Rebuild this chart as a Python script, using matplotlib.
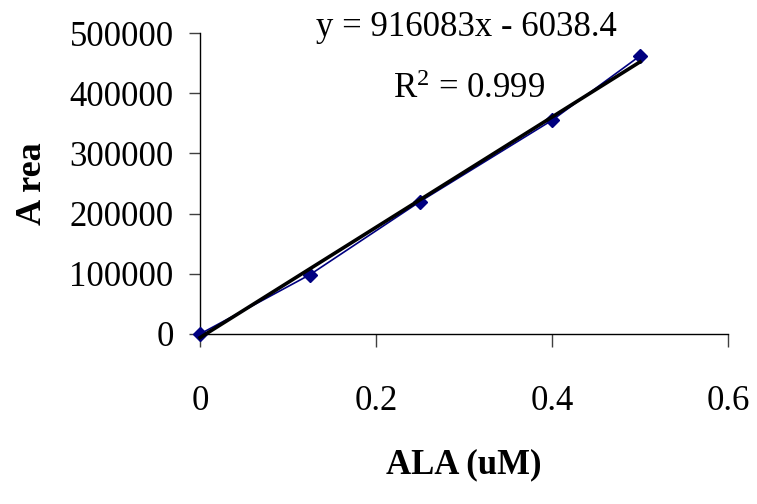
import matplotlib
matplotlib.use("Agg")
import matplotlib.pyplot as plt
import numpy as np

conc = [0.0, 0.125, 0.25, 0.4, 0.5]
area = [0, 98600, 220000, 355000, 462000]
slope = 916083
intercept = -6038.4
r2_text = "0.999"
yticks = [0, 100000, 200000, 300000, 400000, 500000]
xticks = [0, 0.2, 0.4, 0.6]
xticklabels = ["0", "0.2", "0.4", "0.6"]

plt.rcParams['font.family'] = ['Liberation Serif', 'DejaVu Serif']
plt.rcParams['mathtext.fontset'] = 'custom'
plt.rcParams['mathtext.rm'] = 'Liberation Serif'
plt.rcParams['mathtext.it'] = 'Liberation Serif:italic'
plt.rcParams['mathtext.bf'] = 'Liberation Serif:bold'

fig = plt.figure(figsize=(7.57, 5.04), dpi=100)
ax = fig.add_axes([200 / 757, 1 - 334 / 504, 528 / 757, 301 / 504])

ax.plot(conc, area, color='#000080', lw=1.2, marker='D', markersize=7.5,
        markerfacecolor='#000080', markeredgecolor='#000080', zorder=3, clip_on=False)
xf = np.array([conc[0], conc[-1]])
ax.plot(xf, slope * xf + intercept, color='black', lw=2.6, zorder=4, clip_on=False)

ax.set_xlim(0, 0.6)
ax.set_ylim(0, 500000)
ax.set_xticks(xticks)
ax.set_xticklabels(xticklabels)
ax.set_yticks(yticks)
ax.set_yticklabels([str(v) for v in yticks])
ax.tick_params(axis='both', labelsize=25, direction='out', width=1, color='#404040')
ax.tick_params(axis='x', pad=27, length=9.5)
ax.tick_params(axis='y', pad=11, length=8)
for s in ['top', 'right']:
    ax.spines[s].set_visible(False)
for s in ['left', 'bottom']:
    ax.spines[s].set_color('black')
    ax.spines[s].set_linewidth(1)

ax.set_xlabel("ALA (uM)", fontsize=25, fontweight='bold', labelpad=22)
ax.set_ylabel("A rea", fontsize=26, fontweight='bold', labelpad=15)

fig.text(466 / 757, 1 - 28 / 504, "y = 916083x - 6038.4", fontsize=25, ha='center', va='center')
fig.text(469 / 757, 1 - 90 / 504, r"R$^{2}$ = " + r2_text, fontsize=25, ha='center', va='center')

fig.savefig("out.png", dpi=100)
